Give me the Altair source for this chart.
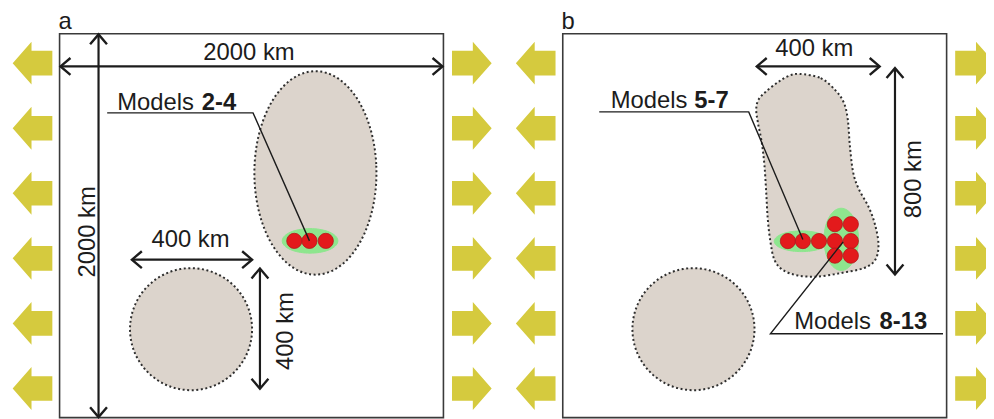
import altair as alt
import numpy as np
import pandas as pd

# ---------------- data (km, inside a 2000 km x 2000 km model box) ----------------
BOX = [0, 2000]

# big yellow extension arrows (y positions, x of left / right columns)
PUSH_Y = [1847, 1508, 1169, 830, 491, 152]
PUSH_X_LEFT = -141
PUSH_X_RIGHT = 2148

# panel a
A_LABEL = ("a", -5, 2027)
A_ROUND = [("circle", 685, 461, 318, 318), ("ellipse", 1333, 1275, 318, 530)]
A_HALOS = [("h1", 1305, 921, 145, 64)]
A_DOTS_X = [1223, 1302, 1387]
A_DOTS_Y = [921, 921, 921]
A_LEADERS = {"l1": [(248, 1588), (1008, 1588), (1302, 921)]}
A_DIMS = [(5, 1830, 1995, 1830), (203, 3, 203, 1997), (377, 823, 1003, 823), (1044, 151, 1044, 777)]
A_TEXT_C = [("2000 km", 987, 1862), ("400 km", 682, 890)]
A_TEXT_L = [("Models", 300, 1604)]
A_TEXT_B = [("2-4", 920, 1604)]          # right end of the bold part
A_TEXT_R = [("2000 km", 183, 968), ("400 km", 1214, 451)]

# panel b
B_LABEL = ("b", -7, 2027)
B_ROUND = [("circle", 681, 461, 318, 318)]
B_BLOB_X = [1232, 1344, 1421, 1465, 1485, 1496, 1513, 1542, 1594, 1628, 1645, 1628, 1568, 1447,
            1327, 1223, 1146, 1103, 1082, 1068, 1060, 1051, 1037, 1017, 1008, 1020, 1060, 1120, 1172]
B_BLOB_Y = [1791, 1769, 1705, 1640, 1554, 1416, 1278, 1192, 1097, 1002, 899, 822, 779, 753,
            735, 741, 770, 822, 916, 1037, 1175, 1313, 1433, 1536, 1605, 1657, 1700, 1747, 1778]
B_HALOS = [("h1", 1244, 919, 142, 54), ("h2", 1451, 929, 90, 162)]
B_DOTS_X = [1173, 1251, 1335, 1418, 1501, 1418, 1501, 1418, 1501]
B_DOTS_Y = [920, 920, 920, 920, 920, 1008, 1008, 844, 844]
B_LEADERS = {"l1": [(190, 1593), (969, 1593), (1251, 928)],
             "l2": [(1461, 916), (1082, 437), (1981, 437)]}
B_DIMS = [(1011, 1830, 1651, 1830), (1731, 746, 1731, 1821)]
B_TEXT_C = [("400 km", 1310, 1886)]
B_TEXT_L = [("Models", 250, 1614), ("Models", 1206, 460)]
B_TEXT_B = [("5-7", 865, 1614), ("8-13", 1899, 460)]   # right ends of the bold parts
B_TEXT_R = [("800 km", 1869, 1242)]

# ---------------- styles ----------------
FONT = "Liberation Sans"
INK = "#1c1c1c"
BEIGE = "#dcd4cc"
GREEN = "#8ee68e"
RED = "#e31a1c"
YELLOW = "#d5ca3e"
ARROW_PATH = "M-1,-0.62 L0.05,-0.62 L0.05,-1.08 L1,0 L0.05,1.08 L0.05,0.62 L-1,0.62 Z"
CHEV_PATH = "M-1,-0.85 L0,0 L-1,0.85"

YDOM = [-8.8, 2115.2]
HEIGHT = 411


def ring(name, cx, cy, rx, ry, n=72):
    t = np.linspace(0, 2 * np.pi, n, endpoint=False)
    return pd.DataFrame({"shape": name, "i": np.arange(n),
                         "x": cx + rx * np.cos(t), "y": cy + ry * np.sin(t)})


def panel(label, rounds, blob, halos, dots_x, dots_y, leaders, dims,
          text_c, text_l, text_b, text_r, xdom, width):
    xs = alt.Scale(domain=xdom, nice=False, zero=False)
    ys = alt.Scale(domain=YDOM, nice=False, zero=False)

    def X(f):
        return alt.X(f, type="quantitative", scale=xs, axis=None)

    def Y(f):
        return alt.Y(f, type="quantitative", scale=ys, axis=None)

    layers = []
    box = pd.DataFrame({"x": [BOX[0]], "x2": [BOX[1]], "y": [BOX[0]], "y2": [BOX[1]]})
    layers.append(alt.Chart(box).mark_rect(fill="white", stroke="#3a3a3a", strokeWidth=1.6)
                  .encode(x=X("x"), x2="x2", y=Y("y"), y2="y2"))

    shp = [ring(*r) for r in rounds]
    if blob is not None:
        bx, by = blob
        shp.append(pd.DataFrame({"shape": "blob", "i": np.arange(len(bx)), "x": bx, "y": by}))
    shp = pd.concat(shp, ignore_index=True)
    layers.append(alt.Chart(shp).mark_line(fill=BEIGE, stroke="#2e2e2e", strokeWidth=2,
                                           strokeDash=[2, 2.6], interpolate="cardinal-closed")
                  .encode(x=X("x"), y=Y("y"), detail="shape:N", order="i:Q"))

    hal = pd.concat([ring(*h) for h in halos], ignore_index=True)
    layers.append(alt.Chart(hal).mark_line(fill=GREEN, stroke=GREEN, strokeWidth=1,
                                           interpolate="cardinal-closed")
                  .encode(x=X("x"), y=Y("y"), detail="shape:N", order="i:Q"))

    dd = pd.DataFrame({"x": dots_x, "y": dots_y})
    layers.append(alt.Chart(dd).mark_circle(size=235, color=RED, opacity=1,
                                            stroke="#b51519", strokeWidth=0.8)
                  .encode(x=X("x"), y=Y("y")))

    rows = []
    for k, pts in leaders.items():
        for i, (px, py) in enumerate(pts):
            rows.append({"id": k, "i": i, "x": px, "y": py})
    layers.append(alt.Chart(pd.DataFrame(rows)).mark_line(color=INK, strokeWidth=1.4)
                  .encode(x=X("x"), y=Y("y"), detail="id:N", order="i:Q"))

    dm = pd.DataFrame(dims, columns=["x", "y", "x2", "y2"])
    layers.append(alt.Chart(dm).mark_rule(color=INK, strokeWidth=2.2)
                  .encode(x=X("x"), y=Y("y"), x2="x2", y2="y2"))

    ch = []
    for (x1, y1, x2, y2) in dims:
        if y1 == y2:
            ch += [{"x": min(x1, x2), "y": y1, "a": 180}, {"x": max(x1, x2), "y": y1, "a": 0}]
        else:
            ch += [{"x": x1, "y": max(y1, y2), "a": 270}, {"x": x1, "y": min(y1, y2), "a": 90}]
    layers.append(alt.Chart(pd.DataFrame(ch)).mark_point(shape=CHEV_PATH, size=400, filled=False,
                                                         stroke=INK, strokeWidth=2.4, opacity=1)
                  .encode(x=X("x"), y=Y("y"), angle=alt.Angle("a:Q", scale=None)))

    def tdf(lst):
        return pd.DataFrame(lst, columns=["t", "x", "y"])

    tl = tdf([label] + text_l)
    layers.append(alt.Chart(tl).mark_text(font=FONT, fontSize=24, color=INK, align="left",
                                          baseline="alphabetic")
                  .encode(x=X("x"), y=Y("y"), text="t:N"))
    layers.append(alt.Chart(tdf(text_b)).mark_text(font=FONT, fontSize=24, color=INK, align="right",
                                                   baseline="alphabetic", fontWeight="bold")
                  .encode(x=X("x"), y=Y("y"), text="t:N"))
    layers.append(alt.Chart(tdf(text_c)).mark_text(font=FONT, fontSize=24, color=INK, align="center",
                                                   baseline="alphabetic")
                  .encode(x=X("x"), y=Y("y"), text="t:N"))
    layers.append(alt.Chart(tdf(text_r)).mark_text(font=FONT, fontSize=24, color=INK, align="center",
                                                   baseline="alphabetic", angle=270)
                  .encode(x=X("x"), y=Y("y"), text="t:N"))

    ar = pd.DataFrame({"x": [PUSH_X_LEFT] * len(PUSH_Y) + [PUSH_X_RIGHT] * len(PUSH_Y),
                       "y": PUSH_Y + PUSH_Y,
                       "a": [180] * len(PUSH_Y) + [0] * len(PUSH_Y)})
    layers.append(alt.Chart(ar).mark_point(shape=ARROW_PATH, size=1600, filled=True, color=YELLOW,
                                           opacity=1, strokeWidth=0, clip=True)
                  .encode(x=X("x"), y=Y("y"), angle=alt.Angle("a:Q", scale=None)))

    return alt.layer(*layers).properties(width=width, height=HEIGHT)


pa = panel(A_LABEL, A_ROUND, None, A_HALOS, A_DOTS_X, A_DOTS_Y, A_LEADERS, A_DIMS,
           A_TEXT_C, A_TEXT_L, A_TEXT_B, A_TEXT_R, [-268.7, 2310.1], 499)
pb = panel(B_LABEL, B_ROUND, (B_BLOB_X, B_BLOB_Y), B_HALOS, B_DOTS_X, B_DOTS_Y, B_LEADERS, B_DIMS,
           B_TEXT_C, B_TEXT_L, B_TEXT_B, B_TEXT_R, [-311.6, 2205.2], 487)

chart = (alt.hconcat(pa, pb, spacing=0)
         .properties(padding=0)
         .configure_view(strokeWidth=0))

chart.save("out.html", embed_options={"renderer": "svg", "actions": False})
